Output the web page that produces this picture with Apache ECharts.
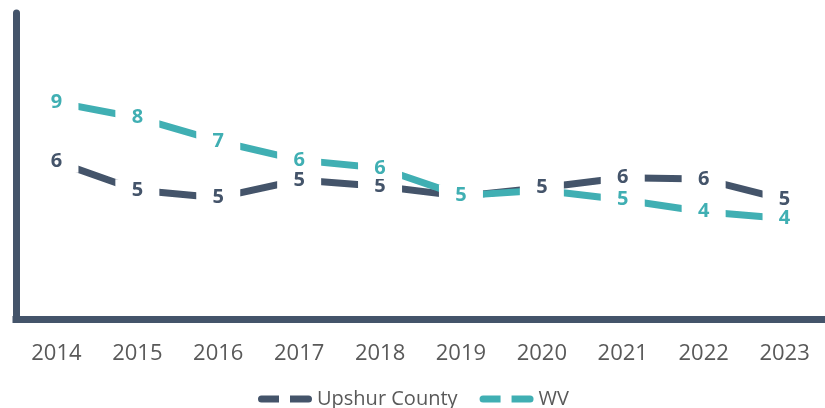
<!DOCTYPE html>
<html>
<head>
<meta charset="utf-8">
<script src="https://cdn.jsdelivr.net/npm/echarts@6/dist/echarts.min.js"></script>
<style>
  html, body { margin: 0; padding: 0; background: #fff; }
  #chart { width: 825px; height: 408px; }
</style>
</head>
<body>
<div id="chart"></div>
<script>
// chart data
const years = ["2014", "2015", "2016", "2017", "2018", "2019", "2020", "2021", "2022", "2023"];
const upshur = [6.18, 5.06, 4.77, 5.46, 5.22, 4.83, 5.16, 5.55, 5.5, 4.69];
const wv = [8.5, 7.9, 6.98, 6.24, 5.93, 4.85, 5.06, 4.69, 4.22, 3.95];
// points whose label sits under the other series' label
const upshurHidden = ["2019"];
const wvHidden = ["2020"];

const darkColor = "#44546a";
const tealColor = "#40afb3";

function buildData(values, hidden) {
  return values.map((v, i) => {
    if (hidden.indexOf(years[i]) >= 0) {
      return { value: v, label: { show: false } };
    }
    return v;
  });
}

function lineSeries(name, values, color) {
  return {
    name: name,
    type: "line",
    z: 2,
    data: values,
    symbol: "none",
    lineStyle: { color: color, width: 7, cap: "butt" },
    emphasis: { disabled: true }
  };
}

// labels drawn above both lines, white box hides the line around each point
function labelSeries(name, values, hidden, color) {
  return {
    name: name + " labels",
    type: "scatter",
    z: 5,
    data: buildData(values, hidden),
    symbolSize: 1,
    itemStyle: { color: "#fff", opacity: 1 },
    label: {
      show: true,
      position: "inside",
      formatter: p => "{b|" + Math.round(p.value) + "}",
      rich: {
        b: {
          color: color,
          fontFamily: "Open Sans",
          fontWeight: "bold",
          fontSize: 20,
          width: 44,
          height: 22,
          lineHeight: 22,
          align: "center",
          backgroundColor: "#ffffff"
        }
      }
    },
    emphasis: { disabled: true },
    tooltip: { show: false }
  };
}

const legendIcon = "path://M3.5,0 H21 V7 H3.5 A3.5,3.5 0 0 1 3.5,0 Z M32,0 H50.5 A3.5,3.5 0 0 1 50.5,7 H32 Z";

let myChart = echarts.init(document.getElementById("chart"));
myChart.setOption({
  animation: false,
  grid: {
    left: 16,
    right: -12,
    top: 13,
    bottom: 88.5
  },
  legend: {
    left: 253,
    top: 384,
    itemWidth: 54,
    itemHeight: 7,
    itemGap: 22,
    icon: legendIcon,
    textStyle: {
      fontFamily: "Open Sans",
      fontSize: 20,
      color: "#595959"
    },
    data: [
      { name: "Upshur County", itemStyle: { color: darkColor } },
      { name: "WV", itemStyle: { color: tealColor } }
    ]
  },
  xAxis: {
    type: "category",
    data: years,
    boundaryGap: true,
    axisLine: {
      lineStyle: { color: darkColor, width: 7, cap: "square" }
    },
    axisTick: { show: false },
    axisLabel: {
      margin: 23,
      fontFamily: "Open Sans",
      fontSize: 22,
      color: "#595959"
    }
  },
  yAxis: {
    type: "value",
    min: 0,
    max: 12,
    interval: 2,
    axisLine: {
      show: true,
      lineStyle: { color: darkColor, width: 7 }
    },
    axisTick: { show: false },
    axisLabel: { show: false },
    splitLine: { show: false }
  },
  series: [
    lineSeries("Upshur County", upshur, darkColor),
    lineSeries("WV", wv, tealColor),
    labelSeries("Upshur County", upshur, upshurHidden, darkColor),
    labelSeries("WV", wv, wvHidden, tealColor)
  ]
});
</script>
</body>
</html>
